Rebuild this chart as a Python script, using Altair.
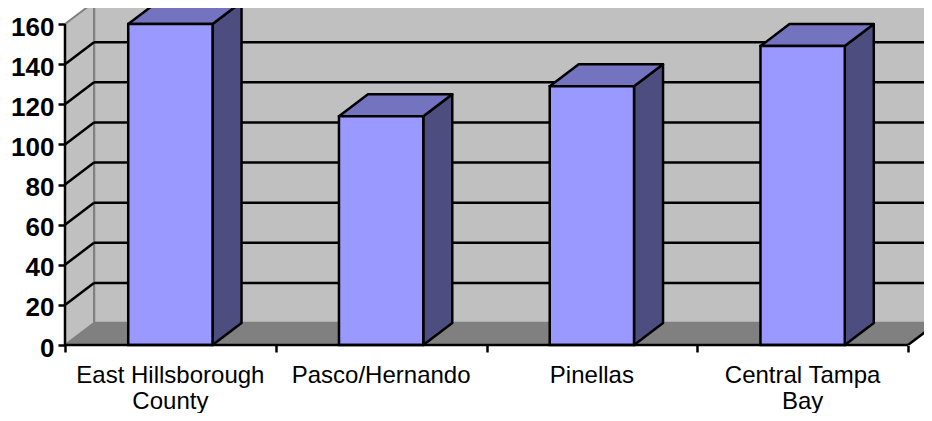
import altair as alt
import pandas as pd

categories = ["East Hillsborough County", "Pasco/Hernando", "Pinellas", "Central Tampa Bay"]
label_lines = [["East Hillsborough", "County"], ["Pasco/Hernando"], ["Pinellas"], ["Central Tampa", "Bay"]]
values = [160, 114, 129, 149]
y_ticks = [0, 20, 40, 60, 80, 100, 120, 140, 160]

# layout in axis units
PX_X = 210.75
PX_Y = 2.006
DX = 29 / PX_X
DV = 22 / PX_Y
BAR_W = 0.4
N = len(categories)
YMAX = y_ticks[-1]
PLOT_W = 859
PLOT_H = 337
XEND = PLOT_W / PX_X
YEND = PLOT_H / PX_Y

xs = alt.Scale(domain=[0, XEND], nice=False, zero=False)
ys = alt.Scale(domain=[0, YEND], nice=False, zero=False)
FONT = "Liberation Sans"


def X(f, **k):
    return alt.X(f, type="quantitative", scale=xs, title=None, **k)


def Y(f, **k):
    return alt.Y(f, type="quantitative", scale=ys, title=None, **k)


# back wall (carries the axes)
wall = pd.DataFrame([{"x": DX, "x2": XEND + 1, "y": DV, "y2": YMAX + DV}])
back_wall = alt.Chart(wall).mark_rect(fill="#C0C0C0", stroke="#808080", strokeWidth=2.5).encode(
    x=X("x", axis=alt.Axis(values=list(range(N + 1)), labels=False, domain=False, grid=False,
                           tickSize=7, tickWidth=2.5, tickColor="black")),
    x2="x2",
    y=Y("y", axis=alt.Axis(values=y_ticks, domain=False, grid=False, tickSize=7, tickWidth=2.5,
                           tickColor="black", labelFont=FONT, labelFontSize=26, labelFontWeight="bold",
                           labelColor="black", labelPadding=4, format="d", labelFlush=False,
                           labelOverlap=False, labelOffset=3)),
    y2="y2",
)

# left side wall
side = pd.DataFrame({"x": [0, DX], "y": [0, DV], "y2": [YMAX, YMAX + DV]})
side_wall = alt.Chart(side).mark_area(fill="#C0C0C0", stroke="#808080", strokeWidth=2, clip=True).encode(
    x=X("x"), y=Y("y"), y2="y2")

# floor
fl = pd.DataFrame({"y": [0, DV], "x": [0, DX], "x2": [N, N + DX]})
floor = alt.Chart(fl).mark_area(orient="horizontal", fill="#808080", stroke="#808080", strokeWidth=1, clip=True).encode(
    y=Y("y"), x=X("x"), x2="x2")

# floor's right edge
edge = pd.DataFrame({"x": [N, N + DX], "y": [0, DV]})
floor_edge = alt.Chart(edge).mark_line(color="black", strokeWidth=2.5, clip=True).encode(
    x=X("x"), y=Y("y"))

# gridlines on back wall and slanted on side wall
grid_vals = [v for v in y_ticks if v > 0]
gb = pd.DataFrame({"x": DX, "x2": XEND, "y": [v + DV for v in grid_vals]})
grid_back = alt.Chart(gb).mark_rule(color="black", strokeWidth=2.5, clip=True).encode(
    x=X("x"), x2="x2", y=Y("y"))
gs = pd.DataFrame([{"g": v, "x": x, "y": v + d} for v in grid_vals[:-1] for x, d in ((0, 0), (DX, DV))])
grid_side = alt.Chart(gs).mark_line(color="black", strokeWidth=2.5).encode(
    x=X("x"), y=Y("y"), detail="g:N")

# axis lines
axes_df = pd.DataFrame([{"x": 0, "x2": N, "y": 0, "y2": 0}, {"x": 0, "x2": 0, "y": 0, "y2": YMAX}])
axis_lines = alt.Chart(axes_df).mark_rule(color="black", strokeWidth=2.5).encode(
    x=X("x"), x2="x2", y=Y("y"), y2="y2")

# bars
fronts, sides, tops = [], [], []
for i, (c, v) in enumerate(zip(categories, values)):
    l = i + 0.5 - BAR_W / 2
    r = i + 0.5 + BAR_W / 2
    fronts.append({"c": c, "x": l, "x2": r, "y": 0, "y2": v})
    sides += [{"c": c, "x": r, "y": 0, "y2": v}, {"c": c, "x": r + DX, "y": DV, "y2": v + DV}]
    tops += [{"c": c, "y": v, "x": l, "x2": r}, {"c": c, "y": v + DV, "x": l + DX, "x2": r + DX}]

bar_side = alt.Chart(pd.DataFrame(sides)).mark_area(
    fill="#4D4D80", stroke="black", strokeWidth=2.5, strokeJoin="round").encode(
    x=X("x"), y=Y("y"), y2="y2", detail="c:N")
bar_top = alt.Chart(pd.DataFrame(tops)).mark_area(
    orient="horizontal", fill="#7373BF", stroke="black", strokeWidth=2.5, strokeJoin="round").encode(
    y=Y("y"), x=X("x"), x2="x2", detail="c:N")
bar_front = alt.Chart(pd.DataFrame(fronts)).mark_rect(
    fill="#9999FF", stroke="black", strokeWidth=2.5).encode(
    x=X("x"), x2="x2", y=Y("y"), y2="y2")

# category labels
lab = pd.DataFrame({"x": [i + 0.5 for i in range(N)], "y": 0, "t": ["\n".join(t) for t in label_lines]})
labels = alt.Chart(lab).mark_text(
    font=FONT, fontSize=24, color="black", baseline="top", align="center",
    lineBreak="\n", lineHeight=26, dy=19).encode(
    x=X("x"), y=Y("y"), text="t:N")

chart = alt.layer(
    back_wall, side_wall, floor, floor_edge, grid_back, grid_side,
    bar_side, bar_top, bar_front, axis_lines, labels,
).properties(
    width=PLOT_W, height=PLOT_H, background="white",
    padding={"left": 57, "top": 0, "right": 0, "bottom": 68},
    autosize=alt.AutoSizeParams(type="none"),
).configure_view(stroke=None)

chart.save("out.html", embed_options={"renderer": "svg", "actions": False})
